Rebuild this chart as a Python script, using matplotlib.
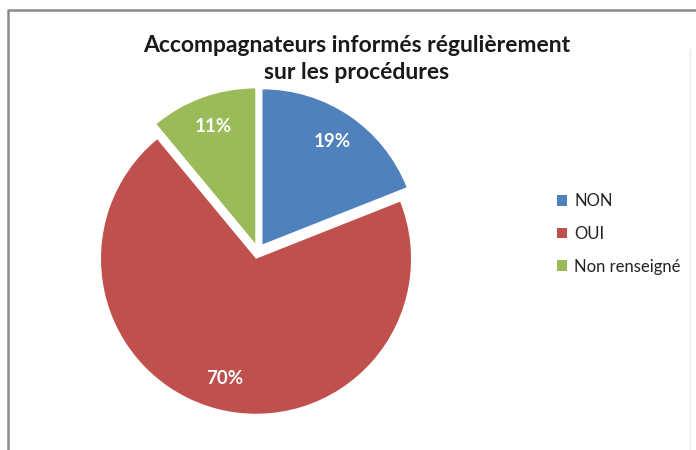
import matplotlib.pyplot as plt

# data
labels = ['NON', 'OUI', 'Non renseigné']
values = [19, 70, 11]
colors = ['#4F81BD', '#C0504D', '#9BBB59']
title = 'Accompagnateurs informés régulièrement\nsur les procédures'

plt.rcParams['font.family'] = ['Lato', 'DejaVu Sans']

W, H = 696, 450
fig = plt.figure(figsize=(W / 100, H / 100), dpi=100)
ax = fig.add_axes([0, 0, 1, 1])

wedges, texts, autotexts = ax.pie(
    values, colors=colors, startangle=90, counterclock=False,
    center=(258, H - 251), radius=155, explode=[8, 8, 8],
    autopct='%1.0f%%', pctdistance=0.8,
    textprops=dict(color='white', fontsize=13.5, fontweight='bold'),
    wedgeprops=dict(linewidth=0))

ax.set_xlim(0, W)
ax.set_ylim(0, H)
ax.set_aspect('equal', adjustable='box')
ax.axis('off')

# chart frame
ax.plot([8, 8, W], [0, H - 10, H - 10], color='#8c8c8c', lw=1.8, solid_capstyle='butt')
ax.plot([690, 690], [0, H - 50], color='#ececec', lw=1)

ax.text(357, H - 59, title, ha='center', va='center', fontsize=16.5,
        fontweight='bold', color='#1a1a1a', linespacing=1.3)

ax.legend(wedges, labels, loc='upper left', bbox_to_anchor=(549 / W, 1 - 185 / H),
          frameon=False, fontsize=12, handlelength=0.6, handleheight=0.6,
          handletextpad=0.4, labelspacing=1.0, borderpad=0,
          labelcolor='#222222')

fig.savefig('out.png', dpi=100)
